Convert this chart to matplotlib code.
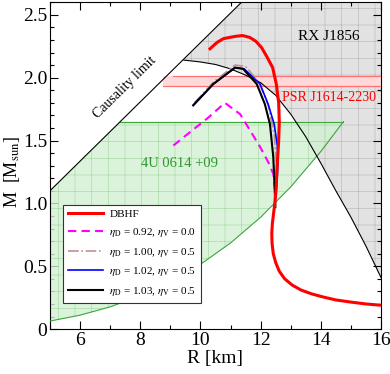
import matplotlib
matplotlib.use("Agg")
import matplotlib.pyplot as plt
from matplotlib.ticker import MultipleLocator, FixedLocator, FixedFormatter

plt.rcParams['font.family'] = ['Liberation Serif', 'DejaVu Serif']
plt.rcParams['mathtext.fontset'] = 'stix'
plt.rcParams['hatch.linewidth'] = 0.4

# causality limit line (R in km, M in Msun)
causal_R = [5.0, 11.45]
causal_M = [1.10, 2.62]

# RX J1856 lower boundary
rx_R = [9.45, 10.0, 10.5, 11.0, 11.5, 12.0, 12.5, 13.0, 13.5, 14.0, 14.5, 15.0, 15.5, 16.0]
rx_M = [2.14, 2.125, 2.105, 2.07, 2.02, 1.96, 1.86, 1.71, 1.53, 1.32, 1.10, 0.89, 0.66, 0.41]

# 4U 0614+09 region
qpo_R = [5.0, 6.0, 7.0, 8.0, 9.0, 10.0, 11.0, 12.0, 13.0, 14.0, 14.75]
qpo_M = [0.064, 0.111, 0.177, 0.264, 0.375, 0.515, 0.685, 0.89, 1.131, 1.413, 1.65]
qpo_top = 1.65
qpo_left_R = 7.34

# PSR J1614-2230 band
psr_lo, psr_hi = 1.93, 2.01
psr_left_R = 8.75

# mass-radius curves
dbhf_R = [16.0, 15.5, 15.0, 14.5, 14.07, 13.7, 13.35, 13.05, 12.8, 12.62, 12.5, 12.42, 12.38,
          12.37, 12.39, 12.43, 12.47, 12.51, 12.55, 12.6, 12.62, 12.6, 12.52, 12.4, 12.2,
          12.03, 11.84, 11.64, 11.4, 11.2, 10.96, 10.76, 10.55, 10.32]
dbhf_M = [0.19, 0.20, 0.215, 0.232, 0.256, 0.28, 0.31, 0.35, 0.40, 0.46, 0.53, 0.60, 0.68,
          0.76, 0.84, 0.92, 1.0, 1.10, 1.30, 1.50, 1.65, 1.80, 1.95, 2.08, 2.17,
          2.24, 2.29, 2.32, 2.335, 2.33, 2.32, 2.31, 2.28, 2.23]

mag_R = [9.1, 9.65, 10.3, 10.81, 11.32, 11.98, 12.25, 12.42, 12.5]
mag_M = [1.46, 1.566, 1.69, 1.80, 1.71, 1.45, 1.33, 1.235, 1.05]

brown_R = [9.8, 10.45, 11.15, 11.5, 11.95, 12.25, 12.45, 12.53, 12.5]
brown_M = [1.80, 1.97, 2.10, 2.09, 1.96, 1.78, 1.55, 1.30, 1.05]

blue_R = [9.76, 10.43, 11.15, 11.45, 11.98, 12.25, 12.45, 12.55, 12.58, 12.55, 12.5]
blue_M = [1.78, 1.95, 2.08, 2.07, 1.95, 1.79, 1.63, 1.47, 1.35, 1.2, 1.05]

black_R = [9.76, 10.43, 11.15, 11.42, 11.87, 12.14, 12.31, 12.42, 12.47, 12.49]
black_M = [1.78, 1.95, 2.08, 2.07, 1.95, 1.79, 1.63, 1.37, 1.10, 0.97]

labels = ["DBHF",
          r"$\eta_{\rm D}$ = 0.92, $\eta_{\rm V}$ = 0.0",
          r"$\eta_{\rm D}$ = 1.00, $\eta_{\rm V}$ = 0.5",
          r"$\eta_{\rm D}$ = 1.02, $\eta_{\rm V}$ = 0.5",
          r"$\eta_{\rm D}$ = 1.03, $\eta_{\rm V}$ = 0.5"]

fig = plt.figure(figsize=(3.9, 3.74), dpi=100)
ax = fig.add_axes([0.128, 0.120, 0.849, 0.874])

# RX J1856 region (above curve, right of causality line)
top = 2.6
slope = (causal_M[1] - causal_M[0]) / (causal_R[1] - causal_R[0])
rx_poly_R = [causal_R[0] + (top - causal_M[0]) / slope, 16.0, 16.0] + rx_R[::-1]
rx_poly_M = [top, top, rx_M[-1]] + rx_M[::-1]
ax.fill(rx_poly_R, rx_poly_M, facecolor='#e2e2e2', edgecolor='#b4b4b4', hatch='+', linewidth=0, zorder=1)

# 4U 0614+09 region
g_R = [5.0, qpo_left_R] + qpo_R[::-1]
g_M = [causal_M[0], qpo_top] + qpo_M[::-1]
ax.fill(g_R, g_M, facecolor='#d2efd2', edgecolor='#8fd08f', hatch='+', linewidth=0, alpha=0.8, zorder=2)
ax.plot([qpo_left_R, qpo_R[-1]], [qpo_top, qpo_top], color='#3aa63a', lw=0.8, zorder=3)
ax.plot(qpo_R, qpo_M, color='#3aa63a', lw=0.8, zorder=3)

# PSR J1614-2230 band
ax.fill_between([psr_left_R, 16.0], psr_lo, psr_hi, facecolor='#ffd9d9', edgecolor='#ff9a9a',
                hatch='-', linewidth=0, zorder=3)
ax.plot([psr_left_R, 16.0], [psr_lo, psr_lo], color='#ff7070', lw=0.9, zorder=3)
ax.plot([psr_left_R + 0.34, 16.0], [psr_hi, psr_hi], color='#ff7070', lw=0.9, zorder=3)

# boundaries
ax.plot(causal_R, causal_M, color='black', lw=0.8, zorder=4)
ax.plot(rx_R, rx_M, color='black', lw=0.8, zorder=4)

# M-R curves
l1, = ax.plot(dbhf_R, dbhf_M, color='red', lw=2.2, zorder=6)
l2, = ax.plot(mag_R, mag_M, color='magenta', lw=1.5, ls=(0, (4, 2.5)), zorder=5)
l3, = ax.plot(brown_R, brown_M, color='#c09090', lw=1.2, ls='-.', zorder=5)
l4, = ax.plot(blue_R, blue_M, color='blue', lw=1.2, zorder=5)
l5, = ax.plot(black_R, black_M, color='black', lw=1.5, zorder=5)

# texts
ax.text(7.5, 1.92, "Causality limit", rotation=44.6, ha='center', va='center', fontsize=10, zorder=7)
ax.text(14.25, 2.33, "RX J1856", ha='center', va='center', fontsize=11, zorder=7)
ax.text(14.28, 1.84, "PSR J1614-2230", ha='center', va='center', fontsize=10, color='red', zorder=7)
ax.text(9.32, 1.32, "4U 0614 +09", ha='center', va='center', fontsize=10.5, color='#2e9a2e', zorder=7)

ax.set_xlim(5, 16)
ax.set_ylim(0, 2.6)
ax.xaxis.set_major_locator(MultipleLocator(2))
ax.xaxis.set_minor_locator(MultipleLocator(1))
ax.yaxis.set_major_locator(FixedLocator([0, 0.5, 1.0, 1.5, 2.0, 2.5]))
ax.yaxis.set_major_formatter(FixedFormatter(["0", "0.5", "1.0", "1.5", "2.0", "2.5"]))
ax.yaxis.set_minor_locator(MultipleLocator(0.1))
ax.tick_params(which='both', direction='in', top=True, right=True, labelsize=14, pad=2)
ax.tick_params(which='major', length=6, width=0.8)
ax.tick_params(which='minor', length=3, width=0.8)
ax.set_xlabel("R [km]", fontsize=14, labelpad=1)
ax.set_ylabel(r"M  [M$_{\rm sun}$]", fontsize=13, labelpad=0)
ax.yaxis.set_label_coords(-0.085, 0.48)

leg = ax.legend([l1, l2, l3, l4, l5], labels, loc='lower left', bbox_to_anchor=(0.04, 0.08),
                fontsize=8, handlelength=3.1, handletextpad=0.6, labelspacing=0.6,
                borderpad=0.45, borderaxespad=0, fancybox=False, framealpha=1, edgecolor='#333333')
leg.get_frame().set_linewidth(0.8)
leg.set_zorder(8)

plt.savefig("out.png", dpi=100)
